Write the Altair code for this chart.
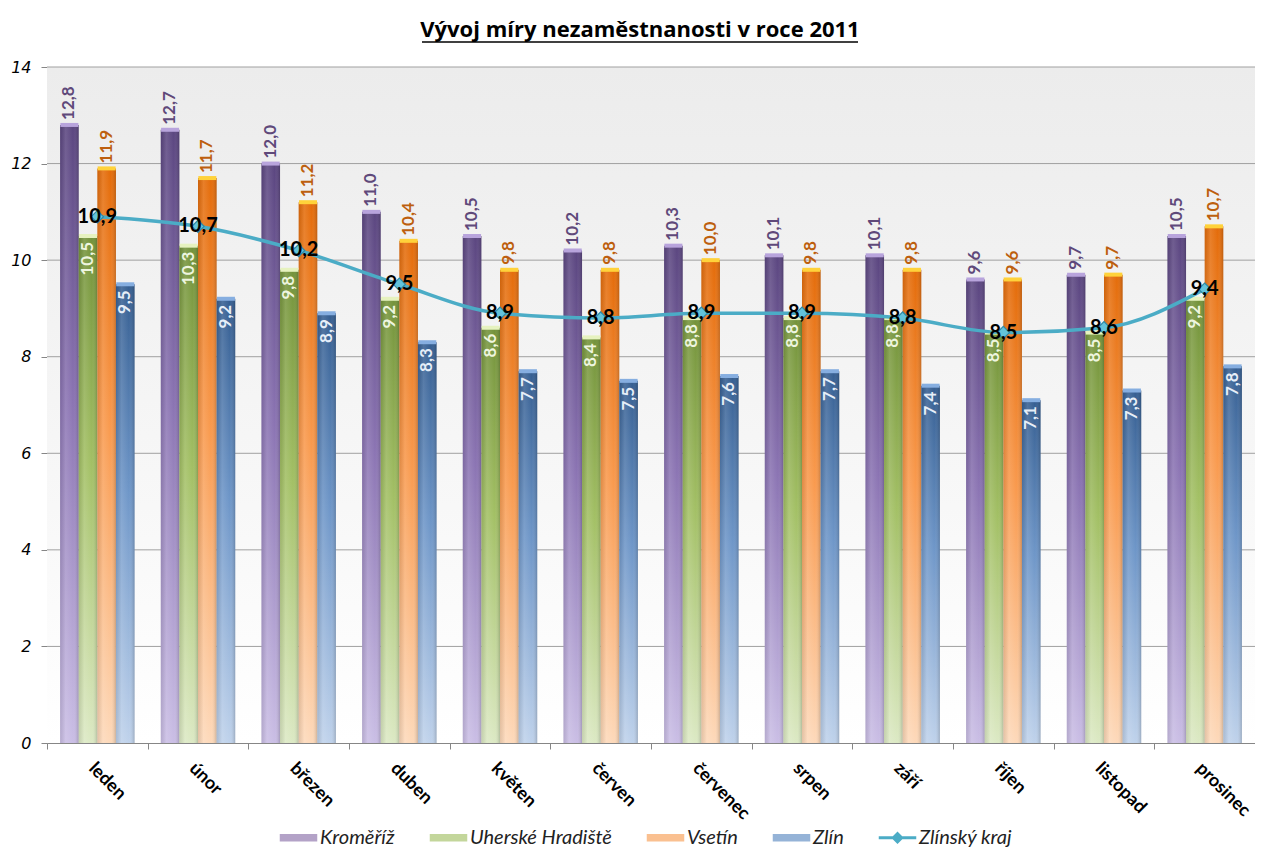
import altair as alt
import pandas as pd

months = ["leden", "únor", "březen", "duben", "květen", "červen",
          "červenec", "srpen", "září", "říjen", "listopad", "prosinec"]
kromeriz = [12.8, 12.7, 12.0, 11.0, 10.5, 10.2, 10.3, 10.1, 10.1, 9.6, 9.7, 10.5]
uh = [10.5, 10.3, 9.8, 9.2, 8.6, 8.4, 8.8, 8.8, 8.8, 8.5, 8.5, 9.2]
vsetin = [11.9, 11.7, 11.2, 10.4, 9.8, 9.8, 10.0, 9.8, 9.8, 9.6, 9.7, 10.7]
zlin = [9.5, 9.2, 8.9, 8.3, 7.7, 7.5, 7.6, 7.7, 7.4, 7.1, 7.3, 7.8]
kraj = [10.9, 10.7, 10.2, 9.5, 8.9, 8.8, 8.9, 8.9, 8.8, 8.5, 8.6, 9.4]
y_ticks = [0, 2, 4, 6, 8, 10, 12, 14]
series_names = ["Kroměříž", "Uherské Hradiště", "Vsetín", "Zlín", "Zlínský kraj"]
title_text = "Vývoj míry nezaměstnanosti v roce 2011"

rows = []
for s, vals in zip(series_names, [kromeriz, uh, vsetin, zlin, kraj]):
    for m, v in zip(months, vals):
        rows.append({"series": s, "month": m, "value": v,
                     "label": f"{v:.1f}".replace(".", ",")})
df = pd.DataFrame(rows)
grid_df = pd.DataFrame({"value": y_ticks[1:]})
one = pd.DataFrame({"a": [0]})

W, H = 1208, 676
STEP = W / 12
PAD_L, PAD_T = 39, 59

def vgrad(stops):
    return alt.LinearGradient(gradient="linear", x1=0, y1=0, x2=0, y2=1,
                              stops=[alt.GradientStop(offset=o, color=c) for o, c in stops])

X = alt.X("month:N", sort=months, title=None,
          scale=alt.Scale(domain=months, paddingInner=0.26, paddingOuter=0.13),
          axis=alt.Axis(domainColor="#868686", tickColor="#868686", tickSize=6,
                        tickOffset=-STEP / 2, labelOffset=STEP / 2, labelAngle=45,
                        labelAlign="left", labelBaseline="top", labelPadding=10,
                        labelFont="Lato", labelFontWeight="bold", labelFontSize=18,
                        labelColor="black", grid=False, labelOverlap=False, labelBound=False))
Y = alt.Y("value:Q", title=None,
          scale=alt.Scale(domain=[0, 14], nice=False, zero=True),
          axis=alt.Axis(values=y_ticks, domainColor="#868686", tickColor="#868686",
                        tickSize=6, labelPadding=10, labelFont="DejaVu Sans",
                        labelFontStyle="italic", labelFontSize=16, labelColor="black",
                        grid=False, format="d"))
XO = alt.XOffset("series:N", scale=alt.Scale(domain=series_names[:4], paddingInner=0, paddingOuter=0))

background = alt.Chart(one).mark_rect(
    fill=vgrad([(0, "#ececec"), (0.6, "#f7f7f7"), (1, "#ffffff")])
).encode(x=alt.value(0), x2=alt.value(W), y=alt.value(0), y2=alt.value(H))

grid = alt.Chart(grid_df).mark_rule(color="#a0a0a0", strokeWidth=1).encode(
    y=Y, x=alt.value(0), x2=alt.value(W))

styles = {
    "Kroměříž": dict(stops=[(0, "#5b4680"), (0.45, "#8b74b3"), (1, "#cabee5")],
                     cap="#b8a4dc", lab="#5f497a", inside=False),
    "Uherské Hradiště": dict(stops=[(0, "#73923a"), (0.45, "#a3c065"), (1, "#dce9c4")],
                             cap="#e6f2bf", lab="#eef5df", inside=True),
    "Vsetín": dict(stops=[(0, "#e46c0a"), (0.45, "#f99a4e"), (1, "#fdd9ba")],
                   cap="#ffd23a", lab="#bd5f0e", inside=False),
    "Zlín": dict(stops=[(0, "#355e91"), (0.45, "#6e96c8"), (1, "#bfd2eb")],
                 cap="#86aee0", lab="#e6eef8", inside=True),
}

bar_layers = []
cap_layers = []
label_layers = []
for s in series_names[:4]:
    st = styles[s]
    base = alt.Chart(df).transform_filter(alt.datum.series == s)
    bar_layers.append(base.mark_bar(fill=vgrad(st["stops"])).encode(x=X, xOffset=XO, y=Y))
    cap_layers.append(base.mark_tick(color=st["cap"], thickness=4, size=18, opacity=1)
                      .encode(x=X, xOffset=XO, y=Y))
    if st["inside"]:
        tm = base.mark_text(angle=270, align="right", baseline="middle", dx=-6,
                            font="Lato", fontWeight="bold", fontSize=17, color=st["lab"])
    else:
        tm = base.mark_text(angle=270, align="left", baseline="middle", dx=5,
                            font="Lato", fontWeight="bold", fontSize=17, color=st["lab"])
    label_layers.append(tm.encode(x=X, xOffset=XO, y=Y, text="label:N"))

shade = alt.Chart(df).transform_filter(alt.datum.series != "Zlínský kraj").mark_bar(
    fill=alt.LinearGradient(gradient="linear", x1=0, y1=0, x2=1, y2=0, stops=[
        alt.GradientStop(offset=0, color="rgba(0,0,0,0.10)"),
        alt.GradientStop(offset=0.3, color="rgba(255,255,255,0.12)"),
        alt.GradientStop(offset=0.7, color="rgba(255,255,255,0)"),
        alt.GradientStop(offset=1, color="rgba(0,0,0,0.18)")])
).encode(x=X, xOffset=XO, y=Y)

kr = alt.Chart(df).transform_filter(alt.datum.series == "Zlínský kraj")
line = kr.mark_line(interpolate="monotone", color="#4bacc6", strokeWidth=3.5).encode(x=X, y=Y)
pts = kr.mark_point(shape="diamond", filled=True, size=150, fill="#63c3db",
                    stroke="#2f8aa5", strokeWidth=1.2, opacity=1).encode(x=X, y=Y)
line_labels = kr.mark_text(font="Lato", fontWeight="bold", fontSize=20, color="black",
                           baseline="middle", align="center").encode(x=X, y=Y, text="label:N")

rect_path = "M-1.5,-0.3H1.5V0.3H-1.5Z"
line_path = "M-1.5,-0.12H1.5V0.12H-1.5Z M0,-0.5L0.5,0L0,0.5L-0.5,0Z"
legend = alt.Legend(orient="none", legendX=239, legendY=758, direction="horizontal",
                    title=None, padding=0, labelFont="Lato", labelFontStyle="italic",
                    labelFontSize=20, labelColor="#222222", symbolSize=625,
                    labelOffset=9, columnPadding=34, symbolStrokeWidth=0, symbolOpacity=1)
legend_layer = alt.Chart(df).transform_filter("false").mark_point(filled=True).encode(
    x=X, y=Y,
    color=alt.Color("series:N", legend=legend,
                    scale=alt.Scale(domain=series_names,
                                    range=["#b3a2c7", "#c3d69b", "#fac090", "#95b3d7", "#4bacc6"])),
    shape=alt.Shape("series:N", legend=legend,
                    scale=alt.Scale(domain=series_names,
                                    range=[rect_path, rect_path, rect_path, rect_path, line_path])),
)

underline = alt.Chart(one).mark_rule(color="black", strokeWidth=1.6).encode(
    x=alt.value(375), x2=alt.value(811), y=alt.value(-25))

chart = alt.layer(
    background, grid, *bar_layers, shade, *cap_layers, *label_layers,
    line, pts, line_labels, legend_layer, underline
).properties(
    width=W, height=H,
    title=alt.TitleParams(title_text, font="Open Sans", fontSize=22, fontWeight="bold",
                          color="black", anchor="middle", frame="group", dx=-11, offset=-1),
    autosize=alt.AutoSizeParams(type="none"),
    padding={"left": PAD_L, "top": PAD_T, "right": 0, "bottom": 107},
).configure_view(stroke=None)

chart.save("out.html", embed_options={"renderer": "svg", "actions": False})
